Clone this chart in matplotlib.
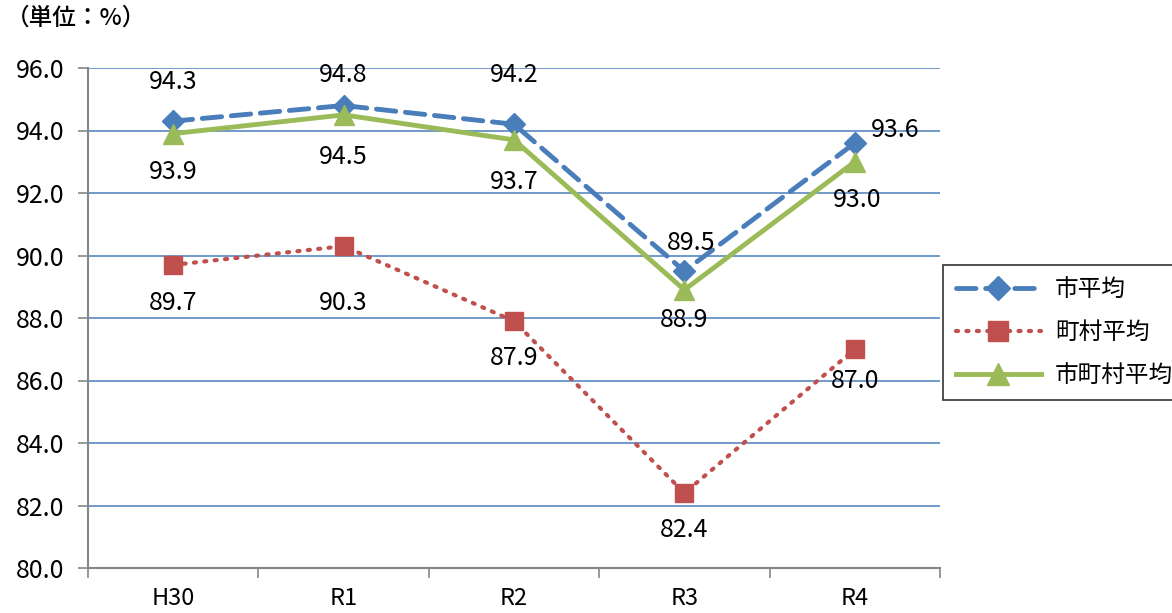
import matplotlib
matplotlib.use("Agg")
import matplotlib.pyplot as plt
from matplotlib.ticker import MultipleLocator, FixedLocator, NullFormatter

plt.rcParams['font.family'] = ['Noto Sans CJK JP', 'DejaVu Sans']

categories = ["H30", "R1", "R2", "R3", "R4"]
city_avg = [94.3, 94.8, 94.2, 89.5, 93.6]
town_avg = [89.7, 90.3, 87.9, 82.4, 87.0]
all_avg = [93.9, 94.5, 93.7, 88.9, 93.0]
series_names = ["市平均", "町村平均", "市町村平均"]
unit_label = "（単位：%）"

# label offsets in pixels (dx, dy), positive dy = up
city_off = [(0, 39), (0, 31), (0, 49), (7, 28), (40, 13)]
town_off = [(0, -38), (0, -57), (0, -37), (0, -37), (0, -32)]
all_off = [(0, -38), (0, -42), (0, -42), (0, -30), (2, -38)]

W, H = 1172, 613
fig = plt.figure(figsize=(W / 100, H / 100), dpi=100)
ax = fig.add_axes([88 / W, 1 - 568 / H, (940 - 88) / W, (568 - 68) / H])

x = list(range(len(categories)))
blue = "#4A7EBB"
red = "#C0504D"
green = "#9BBB59"

ax.plot(x, city_avg, color=blue, lw=3.5, ls=(0, (4, 2)), marker="D", ms=11,
        mfc=blue, mec=blue, label=series_names[0], zorder=4, dash_capstyle="round")
ax.plot(x, town_avg, color=red, lw=3.0, ls=(0, (0.5, 2.0)), marker="s", ms=13,
        mfc=red, mec=red, label=series_names[1], zorder=3, dash_capstyle="round")
ax.plot(x, all_avg, color=green, lw=3.5, ls="-", marker="^", ms=14,
        mfc=green, mec=green, label=series_names[2], zorder=5)

fs = 18
for vals, offs in ((city_avg, city_off), (town_avg, town_off), (all_avg, all_off)):
    for xi, v, (dx, dy) in zip(x, vals, offs):
        ax.annotate(f"{v:.1f}", (xi, v), xytext=(dx, dy), textcoords="offset pixels",
                    ha="center", va="center", fontsize=fs, color="black", zorder=6)

ax.set_xlim(-0.5, 4.5)
ax.set_ylim(80, 96)
ax.yaxis.set_major_locator(MultipleLocator(2))
ax.set_yticklabels([f"{v:.1f}" for v in ax.get_yticks()])
ax.grid(axis="y", color=blue, lw=1.1, zorder=0)
ax.set_axisbelow(True)

ax.set_xticks(x)
ax.set_xticklabels(categories)
ax.xaxis.set_minor_locator(FixedLocator([i - 0.5 for i in range(len(categories) + 1)]))
ax.xaxis.set_minor_formatter(NullFormatter())
ax.tick_params(axis="x", which="major", length=0, labelsize=17, pad=14)
ax.tick_params(axis="x", which="minor", length=7, color="#868686", width=1.2)
ax.tick_params(axis="y", which="major", length=7, color="#868686", width=1.2,
               labelsize=fs, pad=10)

for s in ("top", "right"):
    ax.spines[s].set_visible(False)
for s in ("left", "bottom"):
    ax.spines[s].set_color("#868686")
    ax.spines[s].set_linewidth(1.5)

fig.text(6 / W, 1 - 18 / H, unit_label, fontsize=17, fontweight="medium",
         ha="left", va="center")

leg = fig.legend(loc="upper left", bbox_to_anchor=(943 / W, 1 - 265 / H),
                 fontsize=17, frameon=True, fancybox=False, edgecolor="black",
                 handlelength=3.6, labelspacing=0.85, borderpad=0.55,
                 handletextpad=0.6, borderaxespad=0, markerscale=1.1)
leg.get_frame().set_linewidth(1.2)

fig.savefig("out.png", dpi=100)
